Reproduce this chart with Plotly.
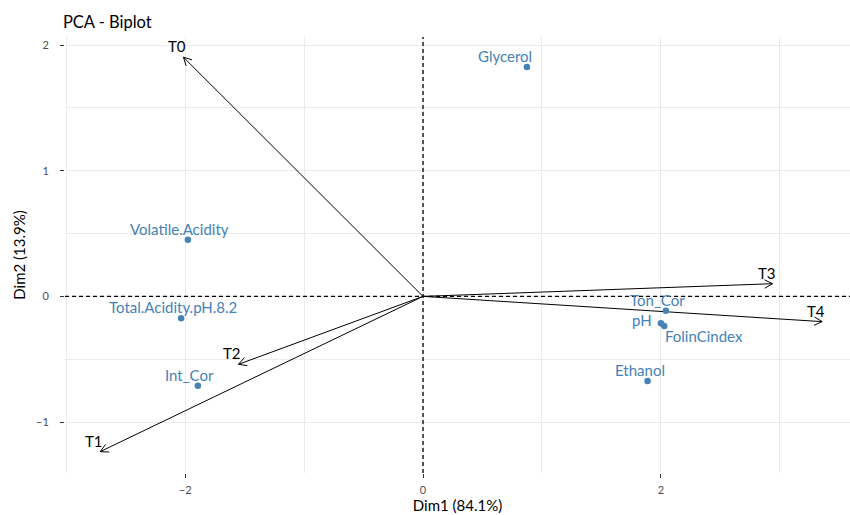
import math
import plotly.graph_objects as go

# Variables (individual points)
var_names = ["Glycerol", "Volatile.Acidity", "Total.Acidity.pH.8.2", "Int_Cor",
             "Ton_Cor", "pH", "FolinCindex", "Ethanol"]
var_dim1 = [0.874, -1.977, -2.034, -1.893, 2.042, 2.000, 2.028, 1.888]
var_dim2 = [1.826, 0.451, -0.174, -0.711, -0.114, -0.214, -0.236, -0.674]

# Arrows (loadings)
arrow_names = ["T0", "T1", "T2", "T3", "T4"]
arrow_dim1 = [-2.014, -2.714, -1.552, 2.939, 3.356]
arrow_dim2 = [1.904, -1.236, -0.541, 0.101, -0.201]

title = "PCA - Biplot"
xlabel = "Dim1 (84.1%)"
ylabel = "Dim2 (13.9%)"
xticks = [-2, 0, 2]
yticks = [-1, 0, 1, 2]

FONT = "Lato"
BLUE = "#4682B4"
GRID = "#EBEBEB"

W, H = 850, 515
ML, MR, MT, MB = 65, 0, 37, 42
XR = [-3.01, 3.59]
YR = [-1.406, 2.065]
px_x = (W - ML - MR) / (XR[1] - XR[0])
px_y = (H - MT - MB) / (YR[1] - YR[0])

fig = go.Figure()

# arrow shafts and heads
lx, ly = [], []
head_len, head_ang = 9.0, math.radians(28)
for x, y in zip(arrow_dim1, arrow_dim2):
    lx += [0, x, None]
    ly += [0, y, None]
    dx, dy = x * px_x, y * px_y
    a = math.atan2(dy, dx)
    for s in (1, -1):
        b = a + math.pi + s * head_ang
        ex = x + head_len * math.cos(b) / px_x
        ey = y + head_len * math.sin(b) / px_y
        lx += [ex, x, None]
        ly += [ey, y, None]
fig.add_trace(go.Scatter(x=lx, y=ly, mode="lines", line=dict(color="black", width=1),
                         hoverinfo="skip", showlegend=False))

fig.add_trace(go.Scatter(x=var_dim1, y=var_dim2, mode="markers",
                         marker=dict(color=BLUE, size=6.5), hoverinfo="text",
                         text=var_names, showlegend=False))

label_shift = {"Glycerol": (-22, 11), "pH": (-19, 3), "FolinCindex": (40, -10)}
annotations = []
for n, x, y in zip(var_names, var_dim1, var_dim2):
    sx, sy = label_shift.get(n, (-8, 11))
    annotations.append(dict(x=x, y=y, xref="x", yref="y", text=n, showarrow=False,
                            xshift=sx, yshift=sy,
                            font=dict(family=FONT, size=15, color=BLUE)))

for n, x, y in zip(arrow_names, arrow_dim1, arrow_dim2):
    annotations.append(dict(x=x, y=y, xref="x", yref="y", text=n, showarrow=False,
                            xshift=-6, yshift=11,
                            font=dict(family=FONT, size=15, color="black")))

fig.add_hline(y=0, line=dict(color="black", width=1.3, dash="4px,3px"))
fig.add_vline(x=0, line=dict(color="black", width=1.3, dash="4px,3px"))

fig.update_layout(
    width=W, height=H,
    margin=dict(l=ML, r=MR, t=MT, b=MB),
    paper_bgcolor="white", plot_bgcolor="white",
    font=dict(family=FONT, size=14, color="black"),
    title=dict(text=title, x=0.074, xanchor="left", y=0.957, yanchor="middle",
               font=dict(family=FONT, size=16.5, color="black")),
    annotations=annotations,
    xaxis=dict(range=XR, tickvals=xticks, showgrid=True, gridcolor=GRID,
               gridwidth=1, zeroline=False, ticks="outside", ticklen=4, tickcolor="#333333",
               ticklabelstandoff=3,
               tickfont=dict(family=FONT, size=11, color="#4D4D4D"),
               minor=dict(dtick=1, tick0=0, showgrid=True, gridcolor=GRID, gridwidth=1, ticks=""),
               title=dict(text=xlabel, font=dict(family=FONT, size=15, color="black"), standoff=5)),
    yaxis=dict(range=YR, tickvals=yticks, showgrid=True, gridcolor=GRID,
               gridwidth=1, zeroline=False, ticks="outside", ticklen=4, tickcolor="#333333",
               ticklabelstandoff=9,
               tickfont=dict(family=FONT, size=11, color="#4D4D4D"),
               minor=dict(dtick=0.5, tick0=0, showgrid=True, gridcolor=GRID, gridwidth=1, ticks=""),
               title=dict(text=ylabel, font=dict(family=FONT, size=15, color="black"), standoff=6)),
)

fig.write_html("out.html", config={"displayModeBar": False},
               post_script="document.body.style.margin='0';document.body.style.overflow='hidden';")
